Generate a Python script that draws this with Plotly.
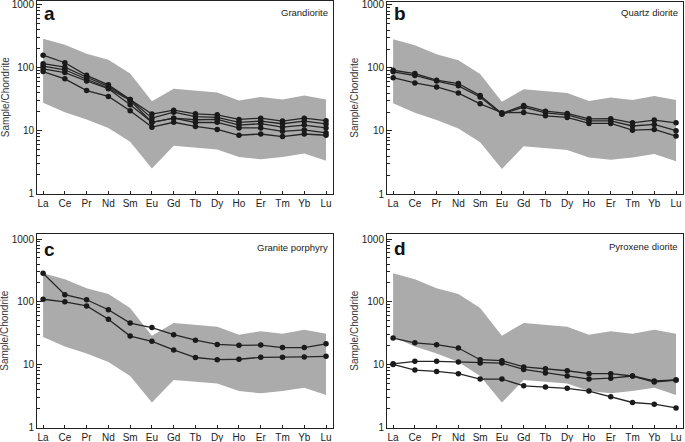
import plotly.graph_objects as go

elements = ['La', 'Ce', 'Pr', 'Nd', 'Sm', 'Eu', 'Gd', 'Tb', 'Dy', 'Ho', 'Er', 'Tm', 'Yb', 'Lu']

# gray reference field (same in all four panels)
field_upper = [285, 230, 165, 133, 80, 29, 46, 43, 40, 30, 34, 31, 36, 31]
field_lower = [27.5, 19.4, 15, 11, 6.6, 2.5, 5.7, 5.4, 5.0, 3.8, 3.5, 3.8, 4.3, 3.3]

# a - Grandiorite
grandiorite = [
    [157, 119, 75, 53, 31, 18.2, 21, 18.4, 17.7, 15, 15.7, 14.1, 15.7, 14.3],
    [115, 101, 70, 50, 31, 15.7, 19.5, 16.6, 16.2, 13.5, 14.1, 12.8, 14.1, 12.7],
    [105, 92, 65, 47, 30, 13.5, 15.7, 14.8, 15, 12.2, 12.8, 11.3, 12.2, 11],
    [95, 83, 61, 46, 25.6, 13.5, 15.7, 13.4, 13.5, 11, 11, 9.7, 10.2, 9.2],
    [86, 66, 43, 34.7, 20.6, 11.3, 13.5, 11.6, 10.4, 8.4, 8.8, 8.0, 8.8, 8.4],
]
# b - Quartz diorite
quartz_diorite = [
    [92, 81.5, 64, 56.6, 36.5, 19, 25.4, 20.6, 19, 15.6, 15.7, 13.5, 14.9, 13.5],
    [87, 76, 62, 52, 34.7, 18.5, 24, 19.4, 18, 14.5, 14.5, 12, 12.7, 10.1],
    [70, 58, 50, 40, 27, 19.5, 19.7, 17.4, 16.4, 13.2, 13.2, 10.3, 10.6, 8.3],
]
# c - Granite porphyry
granite_porphyry = [
    [285, 130, 108, 75, 46, 39, 30, 24.5, 21, 20.3, 20.5, 18.7, 18.7, 21.5],
    [110, 100, 86, 53, 28.5, 23.5, 17.2, 13, 12, 12.2, 13.1, 13.1, 13.3, 13.6],
]
# d - Pyroxene diorite
pyroxene_diorite = [
    [26.5, 22.3, 20.8, 18.4, 12, 11.6, 9.2, 8.6, 8.0, 7.2, 7.2, 6.6, 5.5, 5.7],
    [10.3, 11.3, 11.3, 11, 10.6, 10.6, 8.4, 7.4, 6.6, 5.9, 6.1, 6.6, 5.3, 5.7],
    [10.1, 8.2, 7.8, 7.2, 5.9, 5.9, 4.6, 4.4, 4.2, 3.8, 3.1, 2.5, 2.35, 2.05],
]

panels = [
    ('a', 'Grandiorite', grandiorite),
    ('b', 'Quartz diorite', quartz_diorite),
    ('c', 'Granite porphyry', granite_porphyry),
    ('d', 'Pyroxene diorite', pyroxene_diorite),
]

W, H = 685, 442
# pixel boxes of the four plot areas: (left, right, top, bottom), log y top
boxes = [(37, 333, 1, 193.5, 3.055), (387, 683, 1.5, 194, 3.055),
         (37, 333, 234, 427.5, 3.08), (387, 683, 234, 427.5, 3.08)]
letter_y = [13, 13, 249, 248]
name_y = [12, 12, 247, 246]

fig = go.Figure()
font = dict(family='Liberation Sans, Arial', size=10, color='#222')
minor_vals = [m * 10 ** e for e in range(3) for m in range(2, 10)]

for i, (letter, name, samples) in enumerate(panels):
    n = '' if i == 0 else str(i + 1)
    xa, ya = 'x' + n, 'y' + n
    # field polygon
    fig.add_trace(go.Scatter(x=elements + elements[::-1], y=field_upper + field_lower[::-1],
                             fill='toself', fillcolor='#ababab', line=dict(width=0),
                             mode='lines', hoverinfo='skip', showlegend=False,
                             xaxis=xa, yaxis=ya))
    for s in samples:
        fig.add_trace(go.Scatter(x=elements, y=s, mode='lines+markers',
                                 line=dict(color='#262626', width=1.3),
                                 marker=dict(color='#1a1a1a', size=5.5),
                                 showlegend=False, xaxis=xa, yaxis=ya))

    l, r, t, b, ytop = boxes[i]
    xd = [l / W, r / W]
    yd = [1 - b / H, 1 - t / H]
    fig.layout['xaxis' + n] = dict(domain=xd, anchor=ya, type='category',
                                   range=[-0.28, 13.32], showline=True, mirror=True,
                                   linecolor='#222', linewidth=1, ticks='inside',
                                   ticklen=3, tickcolor='#222', showgrid=False,
                                   tickfont=font, zeroline=False, automargin=False)
    fig.layout['yaxis' + n] = dict(domain=yd, anchor=xa, type='log', range=[0, ytop],
                                   tickvals=[1, 10, 100, 1000],
                                   ticktext=['1', '10', '100', '1000'],
                                   ticklabeloverflow='allow',
                                   showline=True, mirror=True, linecolor='#222',
                                   linewidth=1, ticks='inside', ticklen=5,
                                   tickcolor='#222', showgrid=False, tickfont=font,
                                   zeroline=False, automargin=False,
                                   minor=dict(tickvals=minor_vals, ticks='inside',
                                              ticklen=3, tickcolor='#222', showgrid=False))
    # y title
    fig.add_annotation(text='Sample/Chondrite', textangle=-90, x=(l - 32) / W,
                       y=1 - (t + b) / 2 / H, xanchor='center', yanchor='middle',
                       xref='paper', yref='paper', showarrow=False,
                       font=dict(family='Liberation Sans, Arial', size=10, color='#333'))
    # panel letter
    fig.add_annotation(text='<b>' + letter + '</b>', x=(l + 5) / W, y=1 - letter_y[i] / H,
                       xref='paper', yref='paper', xanchor='left', yanchor='middle',
                       showarrow=False,
                       font=dict(family='Liberation Sans, Arial', size=19, color='#111'))
    # rock name
    fig.add_annotation(text=name, x=(r - 3) / W, y=1 - name_y[i] / H,
                       xref='paper', yref='paper', xanchor='right', yanchor='middle',
                       showarrow=False,
                       font=dict(family='Liberation Sans, Arial', size=9.5, color='#222'))

fig.update_layout(width=W, height=H, margin=dict(l=0, r=0, t=0, b=0, autoexpand=False),
                  paper_bgcolor='white', plot_bgcolor='white')

fig.write_html("out.html", config={'displayModeBar': False},
               post_script="document.body.style.margin='0';document.body.style.overflow='hidden';")
